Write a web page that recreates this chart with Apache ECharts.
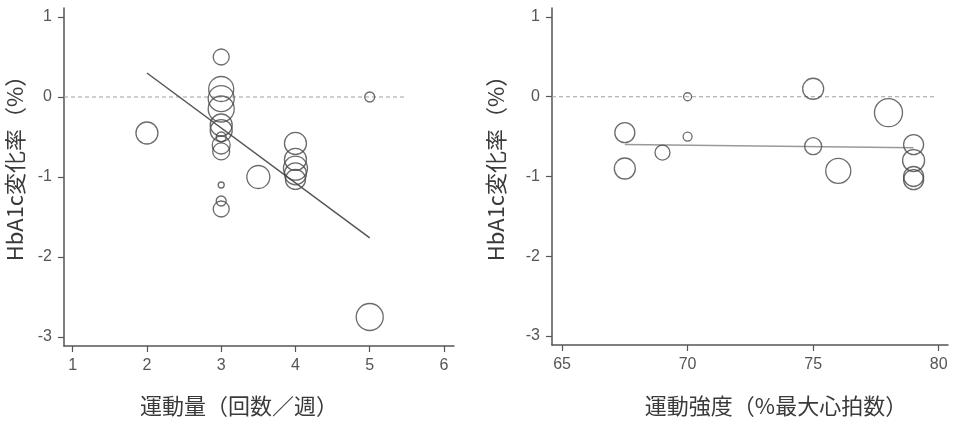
<!DOCTYPE html>
<html>
<head>
<meta charset="utf-8">
<script src="https://cdn.jsdelivr.net/npm/echarts@6/dist/echarts.min.js"></script>
<style>html,body{margin:0;padding:0;background:#fff}#c{width:953px;height:423px}</style>
</head>
<body>
<div id="c"></div>
<script>
// ---- data ----
// left: exercise amount (times / week), HbA1c change (%), bubble weight (diameter)
var leftPoints = [
  [2, -0.45, 22],
  [3, 0.5, 16], [3, 0.1, 25], [3, -0.02, 26], [3, -0.15, 26],
  [3, -0.35, 22], [3, -0.42, 22], [3, -0.5, 10], [3, -0.6, 18],
  [3, -0.68, 17], [3, -1.1, 6], [3, -1.3, 10], [3, -1.4, 16],
  [3.5, -1.0, 23],
  [4, -0.58, 22], [4, -0.78, 22], [4, -0.89, 24], [4, -0.96, 22], [4, -1.03, 20],
  [5, 0, 10], [5, -2.75, 27]
];
var leftFit = [[2, 0.3], [5, -1.76]];
var leftZero = [[0.883, 0], [5.47, 0]];
// right: exercise intensity (% max heart rate)
var rightPoints = [
  [67.5, -0.45, 20], [67.5, -0.9, 21], [69, -0.7, 15],
  [70, 0, 8], [70, -0.5, 9],
  [75, 0.1, 21], [75, -0.62, 17], [76, -0.93, 25],
  [78, -0.2, 28],
  [79, -0.6, 20], [79, -0.8, 22], [79, -1.0, 20], [79, -1.04, 20]
];
var rightFit = [[67.5, -0.6], [79, -0.64]];
var rightZero = [[64.6, 0], [79.83, 0]];
var yTicks = [-3, -2, -1, 0, 1];
var leftXTicks = [1, 2, 3, 4, 5, 6];
var rightXTicks = [65, 70, 75, 80];
var yName = 'HbA1c変化率（%）';
var leftXName = '運動量（回数／週）';
var rightXName = '運動強度（%最大心拍数）';

var axisColor = '#555';
var latin = '"Liberation Sans", Arial, sans-serif';
var cjk = '"Noto Sans CJK JP", "Noto Sans", sans-serif';

function xAxis(idx, min, max, ticks) {
  return {
    type: 'value', gridIndex: idx, min: min, max: max,
    splitLine: {show: false},
    axisLine: {show: true, onZero: false, lineStyle: {color: axisColor, width: 1.5}},
    axisTick: {show: true, length: 6, customValues: ticks, lineStyle: {color: axisColor, width: 1.2}},
    axisLabel: {customValues: ticks, margin: 12, color: '#555', fontSize: 16, fontFamily: latin}
  };
}
function yAxis(idx) {
  return {
    type: 'value', gridIndex: idx, min: -3.1125, max: 1.1125,
    splitLine: {show: false},
    axisLine: {show: true, onZero: false, lineStyle: {color: axisColor, width: 1.5}},
    axisTick: {show: true, length: 6, customValues: yTicks, lineStyle: {color: axisColor, width: 1.2}},
    axisLabel: {customValues: yTicks, margin: 12, color: '#555', fontSize: 16, fontFamily: latin}
  };
}
function bubbles(idx, pts) {
  return {
    type: 'scatter', xAxisIndex: idx, yAxisIndex: idx, data: pts,
    symbol: 'circle',
    symbolSize: function (v) { return v[2]; },
    itemStyle: {color: 'rgba(0,0,0,0)', borderColor: '#464646', borderWidth: 1.3},
    silent: true, z: 3
  };
}
function line(idx, pts, color, type, width) {
  return {
    type: 'line', xAxisIndex: idx, yAxisIndex: idx, data: pts,
    showSymbol: false, symbol: 'none', silent: true,
    lineStyle: {color: color, width: width, type: type}, z: 2
  };
}
function txt(x, y, s, rot) {
  return {
    type: 'text', x: x, y: y, rotation: rot || 0,
    style: {text: s, fill: '#3a3a3a', font: '22px ' + cjk, align: 'center', verticalAlign: 'middle'}
  };
}

var chart = echarts.init(document.getElementById('c'));
chart.setOption({
  animation: false,
  grid: [
    {left: 64, top: 8, width: 390, height: 338},
    {left: 552, top: 8, width: 396, height: 337}
  ],
  xAxis: [xAxis(0, 0.883, 6.135, leftXTicks), xAxis(1, 64.6, 80.37, rightXTicks)],
  yAxis: [yAxis(0), yAxis(1)],
  series: [
    line(0, leftZero, '#a0a0a0', [4, 3], 1.2),
    line(1, rightZero, '#a0a0a0', [4, 3], 1.2),
    line(0, leftFit, '#555', 'solid', 1.5),
    line(1, rightFit, '#999', 'solid', 1.5),
    bubbles(0, leftPoints),
    bubbles(1, rightPoints)
  ],
  graphic: [
    txt(15, 163, yName, Math.PI / 2),
    txt(496, 163, yName, Math.PI / 2),
    txt(239, 406, leftXName),
    txt(776, 406, rightXName)
  ]
});
</script>
</body>
</html>
